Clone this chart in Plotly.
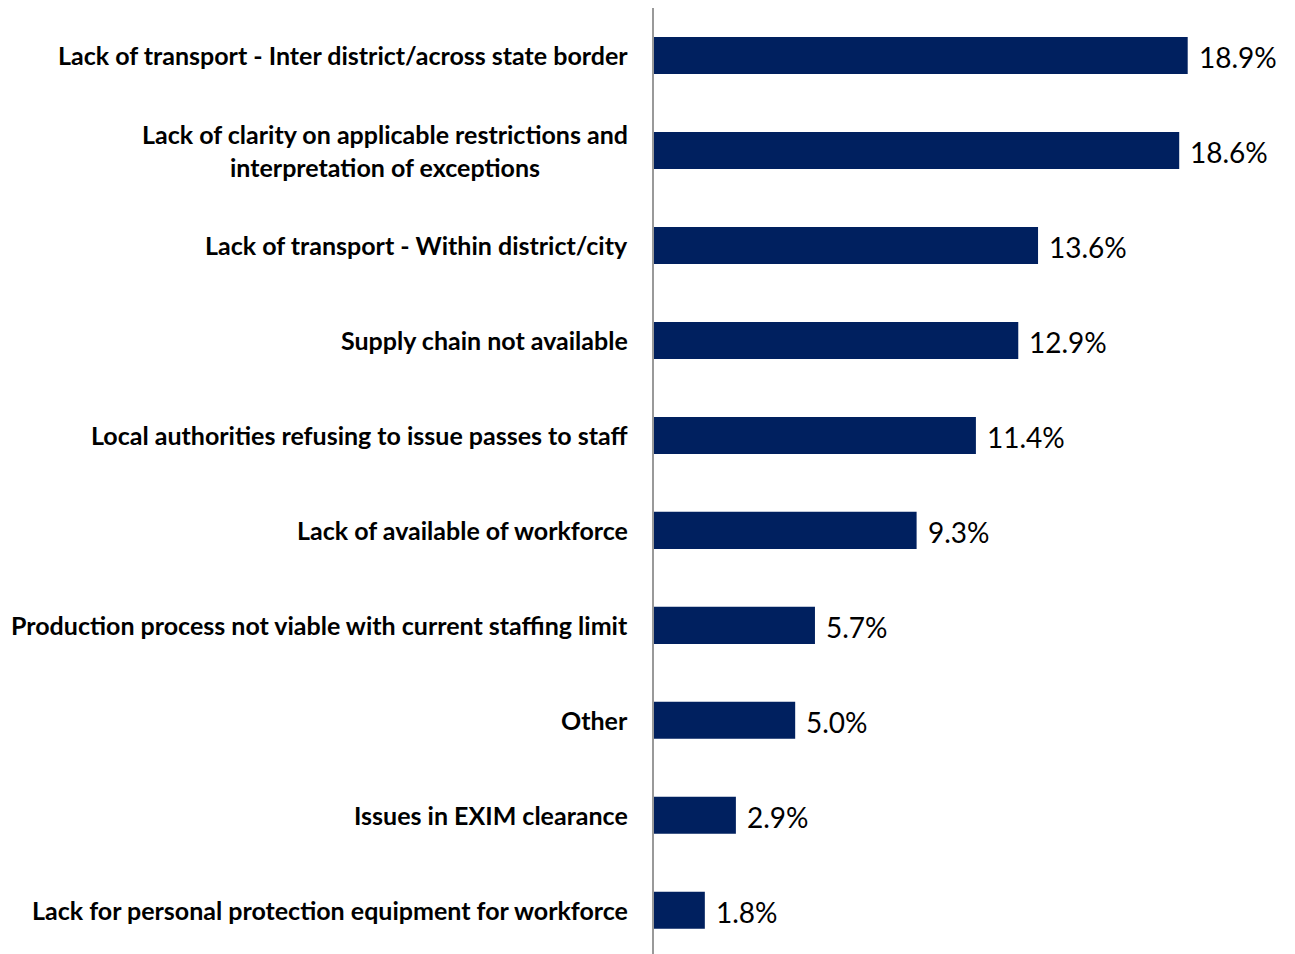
import plotly.graph_objects as go

categories = [
    "Lack of transport - Inter district/across state border",
    "Lack of clarity on applicable restrictions and<br>interpretation of exceptions",
    "Lack of transport - Within district/city",
    "Supply chain not available",
    "Local authorities refusing to issue passes to staff",
    "Lack of available of workforce",
    "Production process not viable with current staffing limit",
    "Other",
    "Issues in EXIM clearance",
    "Lack for personal protection equipment for workforce",
]
values = [18.9, 18.6, 13.6, 12.9, 11.4, 9.3, 5.7, 5.0, 2.9, 1.8]
value_labels = [f"{v:.1f}%" for v in values]

FONT = "Lato, Open Sans, sans-serif"
BAR = "#00205F"

fig = go.Figure(go.Bar(
    x=values, y=list(range(len(values))), orientation="h",
    marker=dict(color=BAR, line=dict(width=0)), width=0.39,
    hoverinfo="skip",
))

for i, (c, v, t) in enumerate(zip(categories, values, value_labels)):
    fig.add_annotation(x=0, y=i, xref="x", yref="y", text=c, showarrow=False,
                       xanchor="right", yanchor="middle", xshift=-24, align="center",
                       font=dict(family=FONT, size=25, color="#000000", weight="bold"))
    fig.add_annotation(x=v, y=i, xref="x", yref="y", text=t, showarrow=False,
                       xanchor="left", yanchor="middle", xshift=9, yshift=-2,
                       font=dict(family=FONT, size=28, color="#000000"))

fig.update_layout(
    width=1295, height=954,
    margin=dict(l=654, r=0, t=8, b=0),
    plot_bgcolor="white", paper_bgcolor="white",
    showlegend=False,
    xaxis=dict(range=[0, 22.7], showgrid=False, zeroline=False, showticklabels=False,
               showline=False, ticks=""),
    yaxis=dict(range=[9.46, -0.5], showgrid=False, zeroline=False, showticklabels=False,
               showline=True, linecolor="#999999", linewidth=2, ticks=""),
)

fig.write_html("out.html")
